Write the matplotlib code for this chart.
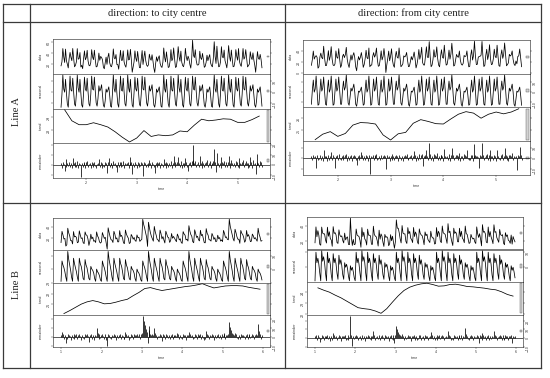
import numpy as np
import matplotlib.pyplot as plt
from matplotlib.patches import Rectangle
from matplotlib.ticker import MaxNLocator

# ---------------- data ----------------
col_titles = ["direction: to city centre", "direction: from city centre"]
row_titles = ["Line A", "Line B"]
panel_names = ["data", "seasonal", "trend", "remainder"]

# line A: 4 weeks, 8 obs per day ; line B: 5 weeks, 6 obs per day
a_per_day, b_per_day = 8, 6
a_start, b_start = 1.5, 1.0
a_ticks = [2, 3, 4, 5]
b_ticks = [1, 2, 3, 4, 5, 6]

# weekly seasonal shape
seas_a_to = [-14, -2, 16, 3, 0, 12, -1, -11,
             -14, -1, 15, 2, 1, 13, 0, -11,
             -13, -2, 16, 4, 0, 12, -1, -12,
             -14, -1, 14, 3, 1, 13, 0, -11,
             -13, -2, 15, 3, 2, 14, 1, -10,
             -13, -6, 6, 1, 3, 7, -2, -12,
             -14, -8, 3, 0, 2, 5, -3, -13]
seas_a_from = [-12, 2, 12, 0, 3, 16, 1, -13,
               -12, 1, 13, 1, 4, 15, 0, -12,
               -13, 2, 12, 0, 3, 16, 2, -13,
               -12, 1, 13, 1, 4, 15, 1, -12,
               -12, 2, 11, 2, 5, 17, 3, -11,
               -13, -5, 4, 1, 4, 8, 0, -12,
               -14, -7, 1, 0, 2, 5, -3, -13]
seas_b_to = [-9, 6, 3, 1, -2, -6,
             -9, 13, 7, 3, -1, -6,
             -9, 8, 4, 1, -2, -6,
             -9, 8, 4, 2, -2, -7,
             -8, 7, 3, 1, -3, -7,
             -8, 2, 0, -1, -3, -7,
             -9, 0, -2, -3, -5, -8]
seas_b_from = [-9, 10, 3, 6, 2, -4,
               -9, 11, 4, 7, 3, -4,
               -9, 10, 3, 6, 2, -5,
               -9, 9, 3, 6, 2, -4,
               -8, 8, 2, 5, 1, -5,
               -8, 3, 0, 2, -1, -6,
               -9, 1, -2, 0, -3, -7]

# daily trend values
trend_a_to = [29.58, 28.74, 28.44, 28.44, 28.59, 28.44, 28.26, 27.9, 27.48, 27.12,
              27.42, 27.99, 27.54, 27.66, 27.6, 27.66, 27.96, 27.9, 28.41, 28.86,
              28.74, 28.8, 28.89, 28.86, 28.62, 28.62, 28.83, 29.1]
trend_a_from = [24.21, 24.66, 24.87, 24.48, 24.72, 25.41, 25.62, 25.59, 25.5, 24.6,
                24.18, 24.69, 24.81, 25.56, 25.86, 25.71, 25.53, 25.5, 25.92, 26.31,
                26.52, 26.4, 25.98, 26.31, 26.49, 26.34, 26.49, 26.76]
trend_b_to = [20.15, 20.42, 20.72, 21.02, 21.23, 21.35, 21.23, 21.05, 21.08, 21.2,
              21.35, 21.47, 21.8, 22.1, 22.46, 22.55, 22.4, 22.28, 22.37, 22.46,
              22.55, 22.64, 22.7, 22.79, 22.91, 22.7, 22.52, 22.61, 22.7, 22.73,
              22.73, 22.7, 22.58, 22.49, 22.4]
trend_b_from = [24.4, 24.19, 24.01, 23.74, 23.5, 23.2, 22.9, 22.6, 22.51, 22.45,
                22.3, 22.09, 22.51, 23.11, 23.68, 24.16, 24.46, 24.64, 24.76, 24.82,
                24.7, 24.55, 24.58, 24.7, 24.73, 24.64, 24.52, 24.49, 24.43, 24.37,
                24.28, 24.22, 24.04, 23.8, 23.65]

# remainders (one row per day)
rem_a_to = [2, -3, 3, 1, -6, 6, -2, 2,
            -1, 3, -2, 2, -3, 7, 2, -2,
            3, -2, 4, -3, 2, 1, -12, 2,
            -2, 3, 2, -3, 3, 4, -2, 1,
            2, -3, 3, 2, -2, 3, -1, -3,
            1, 2, 6, -2, 3, -3, 2, -1,
            -2, 3, 2, -8, 3, 7, -2, 2,
            2, -3, 4, 1, 2, -2, -7, 3,
            -2, 3, 3, -2, -1, 4, -3, 2,
            1, 2, 3, -3, 2, 8, 3, -9,
            2, -2, 3, 1, -3, 3, 2, -2,
            -1, 3, 2, -11, 3, 2, -2, 1,
            2, -2, 5, 2, -3, 3, 1, -2,
            -8, 2, 3, -2, 2, 3, -3, 2,
            1, -2, 6, 2, -3, 3, 2, -2,
            2, -1, 4, -3, 2, 9, 3, -2,
            1, 3, 8, 2, -2, 4, -3, 2,
            2, -2, 7, 3, -2, -6, 2, 3,
            -2, 4, 20, 5, 2, 4, -2, 1,
            3, -2, 9, 2, -3, 4, 2, -2,
            2, 3, 5, -2, 2, 4, -3, 2,
            1, 4, 16, 3, -7, 12, 2, -2,
            2, -3, 8, 3, 2, 4, -2, 3,
            -2, 3, 9, 2, -3, 5, 2, -1,
            2, -2, 4, 3, -2, 7, -3, 2,
            1, 3, 5, -2, 2, 4, 2, -3,
            2, -2, 8, 3, -3, 5, 1, 2,
            -9, 3, 11, 2, -2, 4, 3, -2]
rem_a_from = [2, -2, 3, 1, 2, -9, 3, -2,
              -1, 3, -2, 2, -3, 8, 2, 1,
              2, -3, 3, -2, 2, 6, -2, 3,
              1, -9, 2, 3, -2, 4, -1, -2,
              2, 3, -2, 1, 3, 4, -3, 2,
              -2, 2, 3, -3, 2, 3, 2, -2,
              -7, 2, 3, -2, 1, 6, 3, -2,
              2, -2, 3, 2, -3, 3, -15, 2,
              1, 3, -2, 2, 3, 4, -2, -1,
              2, -2, 3, -1, 2, 3, 2, -10,
              3, 1, 2, -3, 2, 4, -2, 2,
              -2, 2, 3, 2, -3, 3, 1, -2,
              2, -3, 2, 3, 2, 4, -2, -1,
              1, 2, 3, -2, 2, 7, 3, -3,
              2, -2, 4, -1, 3, 4, -8, 2,
              1, 3, 8, 2, -2, 15, 4, -2,
              2, -3, 4, 3, 2, 5, -2, 2,
              -2, 3, 3, 2, -3, 9, 2, 1,
              2, -2, 4, -3, 3, 10, 3, -2,
              1, 3, 3, 2, -2, 5, -3, 2,
              2, -2, 4, 3, 2, 8, -1, -2,
              -2, 3, 3, -3, 2, 14, 3, 2,
              2, 1, -9, 3, 2, 15, 3, -2,
              1, 3, 4, -2, 3, 8, -3, 2,
              2, -2, 3, 2, -3, 8, 2, -1,
              -2, 3, 4, -2, 2, 10, 3, -2,
              2, -3, 3, 3, 2, 5, -2, 2,
              1, 2, -11, 3, 2, 11, 3, -2]
rem_b_to = [2, 6, 3, -2, 2, -7,
            -2, 4, 2, 1, -3, 2,
            -1, 3, -2, 2, 3, -2,
            2, 4, 1, -3, 2, -1,
            -2, 3, 2, 3, 1, -6,
            2, 4, -2, 2, -3, 2,
            1, 10, 5, 3, -2, -1,
            2, 3, 1, -2, 3, -3,
            -10, 4, 2, -1, -2, 2,
            1, 3, 2, -3, 2, -1,
            2, 4, -2, 2, 1, -2,
            -2, 6, 3, 1, 2, -3,
            -1, 3, 2, -2, 3, 2,
            2, 4, 1, 3, -2, 3,
            5, 24, 18, 14, 9, 6,
            -7, 12, 8, 4, 2, 3,
            2, 10, 5, 2, -2, 1,
            1, 4, 2, -5, 3, 2,
            -2, 3, 2, -1, 2, -2,
            2, 4, -2, 2, 1, 2,
            1, 5, 3, -2, 2, -1,
            -2, 3, 2, 2, -3, 2,
            2, 6, 3, 1, 2, -2,
            -1, 4, 2, -2, 3, 1,
            2, 3, -2, 2, -1, -3,
            -2, 7, 3, 2, -2, 2,
            1, 4, 2, -3, 2, -1,
            2, 3, -1, 2, -2, 3,
            1, 5, 3, -2, 2, 2,
            4, 17, 11, 8, 5, 3,
            2, 5, 3, -1, -2, 2,
            -2, 3, 2, 2, 1, -2,
            2, 4, -2, 3, 2, -1,
            1, 3, 2, -2, 2, 3,
            2, 15, 7, 3, -2, 2]
rem_b_from = [2, 4, -2, 3, 1, -5,
              -1, 3, 2, -2, 2, 1,
              2, 4, -1, 2, -3, 2,
              -2, 6, 3, 1, 2, -2,
              1, 3, 2, -3, 2, 2,
              2, 4, -2, -1, 3, -2,
              1, 26, 4, -9, 2, -1,
              2, 3, 2, -2, 1, 2,
              -2, 4, -1, 2, -3, 2,
              1, 3, 2, -1, 2, -2,
              2, 8, 3, -2, 1, 2,
              -1, 4, -2, 2, 3, 1,
              -2, 3, 2, 1, 2, -3,
              2, 4, -1, 3, -2, -6,
              4, 14, 10, 7, 5, 3,
              2, 5, 2, -2, 2, -1,
              1, 3, 2, 2, -3, 2,
              2, 4, -2, 1, 2, -2,
              -1, 3, 3, -2, 1, 2,
              -2, 4, 2, 2, -2, 1,
              2, 7, 3, -1, 2, -2,
              1, 3, -2, 2, 3, -1,
              2, 4, 2, -2, 1, 2,
              1, 8, 3, 2, -2, -1,
              -2, 3, 2, 1, 2, -2,
              2, 4, -1, 3, -2, 2,
              1, 12, 5, 2, -1, -2,
              2, 3, 2, -2, 2, 1,
              1, 4, 2, -6, 3, 2,
              -2, 6, 3, 1, 2, -2,
              2, 4, -2, 2, -1, 2,
              1, 8, 4, 2, -2, 1,
              2, 3, 2, -2, 3, -2,
              -1, 4, 2, 2, -2, 2,
              2, 3, -6, 2, 1, 2]

# ---------------- drawing ----------------
W, H = 550, 378
fig = plt.figure(figsize=(5.5, 3.78), dpi=100)
bg = fig.add_axes([0, 0, 1, 1])
bg.set_xlim(0, W)
bg.set_ylim(H, 0)
bg.axis("off")

serif = "Liberation Serif"
ink = "#333333"
small = 2.3


def px_axes(x0, y0, x1, y1):
    return fig.add_axes([x0 / W, 1 - y1 / H, (x1 - x0) / W, (y1 - y0) / H])


def stl_plot(x0, x1, y0, y1, seas_week, trend_day, rem, per_day, start, ticks):
    rem = np.array(rem, float)
    n = len(rem)
    ndays = n // per_day
    t = start + np.arange(n) / (7 * per_day)
    t_day = start + (np.arange(ndays) + 0.5) / 7
    seasonal = np.tile(np.array(seas_week, float), ndays // 7)
    trend = np.array(trend_day, float)
    data = np.repeat(trend, per_day) + seasonal + rem
    series = [(t, data), (t, seasonal), (t_day, trend), (t, rem)]
    bar = min(np.ptp(s[1]) for s in series)
    span = t[-1] - t[0]
    xlim = (t[0] - 0.04 * span, t[-1] + 0.04 * span)
    edges = np.linspace(y0, y1, 5)

    for i, (tx, y) in enumerate(series):
        ax = px_axes(x0, edges[i], x1, edges[i + 1])
        if i < 3:
            ax.plot(tx, y, color="black", lw=0.55)
        else:
            ax.vlines(tx, 0, y, color="black", lw=0.55)
            ax.axhline(0, color="black", lw=0.45)
        lo, hi = y.min(), y.max()
        r = hi - lo
        ax.set_xlim(xlim)
        ax.set_ylim(lo - 0.04 * r, hi + 0.04 * r)
        # range bar
        dx = (xlim[1] - xlim[0]) / 64
        ax.add_patch(Rectangle((xlim[1] - dx, (lo + hi) / 2 - bar / 2), 0.6 * dx, bar,
                               facecolor="#d3d3d3", edgecolor="#555555", lw=0.3))
        for sp in ax.spines.values():
            sp.set_linewidth(0.45)
            sp.set_color(ink)
        right = i % 2 == 1
        ax.yaxis.set_major_locator(MaxNLocator(nbins=4, steps=[1, 2, 2.5, 5, 10]))
        ax.tick_params(axis="y", left=True, right=True, labelleft=not right,
                       labelright=right, direction="out", length=1.2, width=0.3,
                       labelsize=small, pad=0.6, colors=ink, labelrotation=90)
        ax.set_xticks(ticks)
        last = i == 3
        ax.tick_params(axis="x", bottom=last, labelbottom=last, direction="out",
                       length=1.2, width=0.3, labelsize=small, pad=1.2, colors=ink)
        bg.text(x0 - 12.5, (edges[i] + edges[i + 1]) / 2, panel_names[i], rotation=90,
                fontsize=small, ha="center", va="center", color=ink)
    bg.text((x0 + x1) / 2, y1 + 11, "time", fontsize=small, ha="center", va="center",
            color=ink)


# table grid
line_kw = dict(color="#3a3a3a", lw=0.9)
L, R, T, B = 3, 541, 4, 368
for y in (T, 22, 203, B):
    bg.plot([L, R], [y, y], **line_kw)
for x in (L, 30, 285, R):
    bg.plot([x, x], [T, B], **line_kw)

head = dict(fontsize=7.6, family=serif, ha="center", va="center", color="#222222")
bg.text((30 + 285) / 2, 13, col_titles[0], **head)
bg.text((285 + 541) / 2, 13, col_titles[1], **head)
bg.text(16.5, 112, row_titles[0], rotation=90, **head)
bg.text(16.5, 285, row_titles[1], rotation=90, **head)

stl_plot(53, 270, 39, 178, seas_a_to, trend_a_to, rem_a_to, a_per_day, a_start, a_ticks)
stl_plot(303, 530, 40, 175, seas_a_from, trend_a_from, rem_a_from, a_per_day, a_start, a_ticks)
stl_plot(53, 270, 218, 347, seas_b_to, trend_b_to, rem_b_to, b_per_day, b_start, b_ticks)
stl_plot(307, 523, 217, 347, seas_b_from, trend_b_from, rem_b_from, b_per_day, b_start, b_ticks)

fig.savefig("out.png", dpi=100, facecolor="white")
